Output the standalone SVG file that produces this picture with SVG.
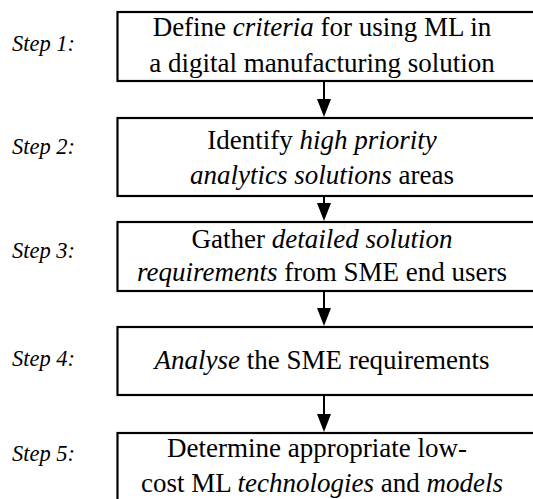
<svg xmlns="http://www.w3.org/2000/svg" width="533" height="499" viewBox="0 0 533 499">
<style>
.box{fill:#fff;stroke:#000;stroke-width:2.2}
.t{font-family:'Liberation Serif','Times New Roman',Times,serif;font-size:27px;fill:#000;text-anchor:middle}
.s{font-family:'Liberation Serif','Times New Roman',Times,serif;font-size:22.5px;font-style:italic;fill:#000}
.i{font-style:italic}
.c{stroke:#000;stroke-width:2;fill:none}
</style>
<rect width="533" height="499" fill="#fff"/>
<g id="connectors">
<line class="c" x1="324" y1="82" x2="324" y2="102"/><path d="M317,99 L331,99 L324,117 Z"/>
<line class="c" x1="324" y1="197" x2="324" y2="206"/><path d="M317,203 L331,203 L324,221 Z"/>
<line class="c" x1="324" y1="292" x2="324" y2="311"/><path d="M317,308 L331,308 L324,326 Z"/>
<line class="c" x1="324" y1="396" x2="324" y2="416"/><path d="M317,414 L331,414 L324,432 Z"/>
</g>
<g id="step1">
<text class="s" x="12" y="51">Step 1:</text>
<rect class="box" x="117.5" y="12" width="420" height="69"/>
<text class="t" x="322" y="36">Define <tspan class="i">criteria</tspan> for using ML in</text>
<text class="t" x="322" y="72">a digital manufacturing solution</text>
</g>
<g id="step2">
<text class="s" x="12" y="154">Step 2:</text>
<rect class="box" x="117.5" y="118" width="420" height="78"/>
<text class="t" x="322" y="149">Identify <tspan class="i">high priority</tspan></text>
<text class="t" x="322" y="184"><tspan class="i">analytics solutions</tspan> areas</text>
</g>
<g id="step3">
<text class="s" x="12" y="258">Step 3:</text>
<rect class="box" x="117.5" y="222" width="420" height="69"/>
<text class="t" x="322" y="248">Gather <tspan class="i">detailed solution</tspan></text>
<text class="t" x="322" y="281"><tspan class="i">requirements</tspan> from SME end users</text>
</g>
<g id="step4">
<text class="s" x="12" y="366">Step 4:</text>
<rect class="box" x="117.5" y="327" width="420" height="68"/>
<text class="t" x="322" y="369"><tspan class="i">Analyse</tspan> the SME requirements</text>
</g>
<g id="step5">
<text class="s" x="12" y="461">Step 5:</text>
<rect class="box" x="117.5" y="433" width="420" height="80"/>
<text class="t" x="317" y="457">Determine appropriate low-</text>
<text class="t" x="322" y="492">cost ML <tspan class="i">technologies</tspan> and <tspan class="i">models</tspan></text>
</g>
</svg>
